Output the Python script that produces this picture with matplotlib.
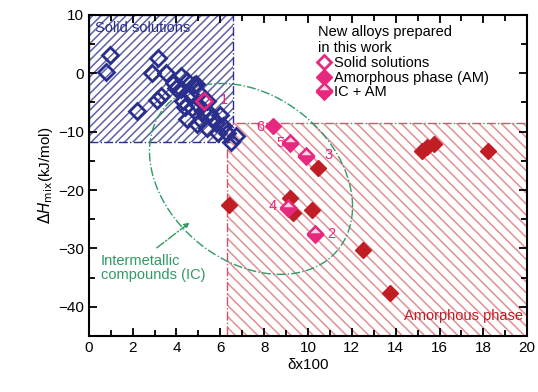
import numpy as np
import matplotlib.pyplot as plt
from matplotlib.patches import Rectangle
from matplotlib.lines import Line2D

plt.rcParams['font.family'] = ['Liberation Sans', 'DejaVu Sans']
plt.rcParams['font.size'] = 10
plt.rcParams['hatch.linewidth'] = 1.1

# literature data: solid solutions (blue open diamonds)
ss_delta = [0.95, 0.8, 3.15, 2.9, 3.5, 4.2, 3.9, 4.5, 4.9, 4.8, 4.95, 4.2, 3.3, 3.1, 2.2,
            4.3, 4.7, 4.5, 4.95, 5.4, 5.6, 5.9, 6.3, 6.5, 6.7, 5.2, 5.4, 4.0, 5.0, 5.8, 6.1,
            4.6, 5.5, 6.0, 5.1, 4.4]
ss_dh = [3.2, 0.3, 2.6, 0.0, 0.0, -0.5, -1.7, -1.4, -1.9, -2.0, -3.1, -2.7, -3.9, -4.6, -6.5,
         -4.8, -6.0, -7.8, -8.7, -9.4, -7.6, -10.2, -10.2, -11.8, -10.7, -6.5, -4.8, -2.5, -5.5, -8.5, -9.0,
         -3.6, -6.8, -7.2, -8.0, -5.8]

# literature data: amorphous phase (dark red filled diamonds)
am_delta = [6.4, 9.2, 9.3, 10.2, 10.45, 12.5, 13.75, 15.2, 15.45, 15.75, 18.2]
am_dh = [-22.6, -21.3, -24.0, -23.5, -16.2, -30.3, -37.7, -13.3, -12.7, -12.1, -13.3]

# new alloys of this work
new_ss_delta = [5.25]
new_ss_dh = [-4.8]
new_am_delta = [8.4]
new_am_dh = [-9.0]
new_icam_delta = [9.2, 9.9, 9.1, 10.3]
new_icam_dh = [-11.9, -14.1, -23.0, -27.5]

alloy_labels = ['1', '2', '3', '4', '5', '6']
label_x = [6.0, 10.9, 10.75, 8.2, 8.55, 7.65]
label_y = [-4.5, -27.6, -14.0, -22.8, -11.9, -9.2]

blue = '#2a2e8c'
darkred = '#c01d24'
pink = '#e6287f'
green = '#2f9a64'

fig = plt.figure(figsize=(5.38, 3.92), dpi=100)
ax = fig.add_axes([0.165, 0.143, 0.815, 0.819])

# hatched regions
ax.add_patch(Rectangle((0, -11.8), 6.6, 21.8, facecolor='none', edgecolor='#5d62a3',
                       hatch='////', linewidth=0, zorder=1))
ax.add_patch(Rectangle((0, -11.8), 6.6, 21.8, facecolor='none', edgecolor=blue,
                       linestyle='-.', linewidth=1.0, zorder=1))
ax.add_patch(Rectangle((6.3, -45), 13.7, 36.5, facecolor='none', edgecolor='#e38f93',
                       hatch='\\\\\\', linewidth=0, zorder=1))
ax.add_patch(Rectangle((6.3, -45), 13.7, 36.5, facecolor='none', edgecolor='#d8506a',
                       linestyle='-.', linewidth=1.0, zorder=1))

# intermetallic region ellipse
t = np.linspace(0, 2 * np.pi, 300)
rho = -0.29
ex = 7.4 + 4.63 * np.cos(t)
ey = -18.1 + 16.35 * (rho * np.cos(t) + np.sqrt(1 - rho ** 2) * np.sin(t))
ax.plot(ex, ey, color=green, linestyle='-.', linewidth=1.0, zorder=2)
ax.annotate('', xy=(4.7, -25.3), xytext=(3.0, -30.2),
            arrowprops=dict(arrowstyle='-|>', color=green, linestyle='-.', lw=1.0,
                            mutation_scale=8), zorder=2)

ax.plot(ss_delta, ss_dh, 'D', ms=8, mfc='none', mec=blue, mew=2.0, zorder=3)
ax.plot(am_delta, am_dh, 'D', ms=8.5, color=darkred, mec=darkred, zorder=3)
ax.plot(new_ss_delta, new_ss_dh, 'D', ms=8, mfc='none', mec=pink, mew=2.0, zorder=4)
ax.plot(new_am_delta, new_am_dh, 'D', ms=8.5, color=pink, zorder=4)
ax.plot(new_icam_delta, new_icam_dh, 'D', ms=8.5, color=pink, fillstyle='bottom',
        markerfacecoloralt='#fbd3e5', mec=pink, mew=1.8, zorder=4)

for lab, lx, ly in zip(alloy_labels, label_x, label_y):
    ax.text(lx, ly, lab, color=pink, fontsize=10.5, ha='left', va='center', zorder=5)

ax.text(0.3, 7.7, 'Solid solutions', color=blue, fontsize=10.5, va='center')
ax.text(19.8, -41.5, 'Amorphous phase', color=darkred, fontsize=10.5, ha='right', va='center')
ax.text(0.55, -33.3, 'Intermetallic\ncompounds (IC)', color=green, fontsize=10.5,
        va='center', linespacing=1.0)

handles = [
    Line2D([], [], marker='D', ls='none', ms=7.5, mfc='none', mec=pink, mew=2.0),
    Line2D([], [], marker='D', ls='none', ms=8.5, color=pink),
    Line2D([], [], marker='D', ls='none', ms=8.5, color=pink, fillstyle='bottom',
           markerfacecoloralt='#fbd3e5', mec=pink, mew=1.8),
]
leg = ax.legend(handles, ['Solid solutions', 'Amorphous phase (AM)', 'IC + AM'],
                title='New alloys prepared\nin this work', loc='upper left',
                bbox_to_anchor=(0.5, 1.0), frameon=False, handlelength=0.8,
                handletextpad=0.3, labelspacing=0.05, borderpad=0.2, fontsize=10.5,
                title_fontsize=10.5, alignment='left')

ax.set_xlim(0, 20)
ax.set_ylim(-45, 10)
ax.set_xticks(np.arange(0, 21, 2))
ax.set_xticks(np.arange(0, 21, 1), minor=True)
ax.set_yticks(np.arange(-40, 11, 10))
ax.set_yticks(np.arange(-45, 11, 5), minor=True)
ax.set_yticklabels(['\u221240', '\u221230', '\u221220', '\u221210', '0', '10'])
ax.tick_params(which='both', direction='in', top=True, right=True, width=1.3, labelsize=11)
ax.tick_params(which='major', length=6)
ax.tick_params(which='minor', length=4)
for s in ax.spines.values():
    s.set_linewidth(1.5)

ax.set_xlabel('\u03b4x100', fontsize=11, labelpad=2)
ax.set_ylabel('$\\Delta H_{\\rm mix}$(kJ/mol)', fontsize=11, labelpad=2)

fig.savefig('out.png', dpi=100)
